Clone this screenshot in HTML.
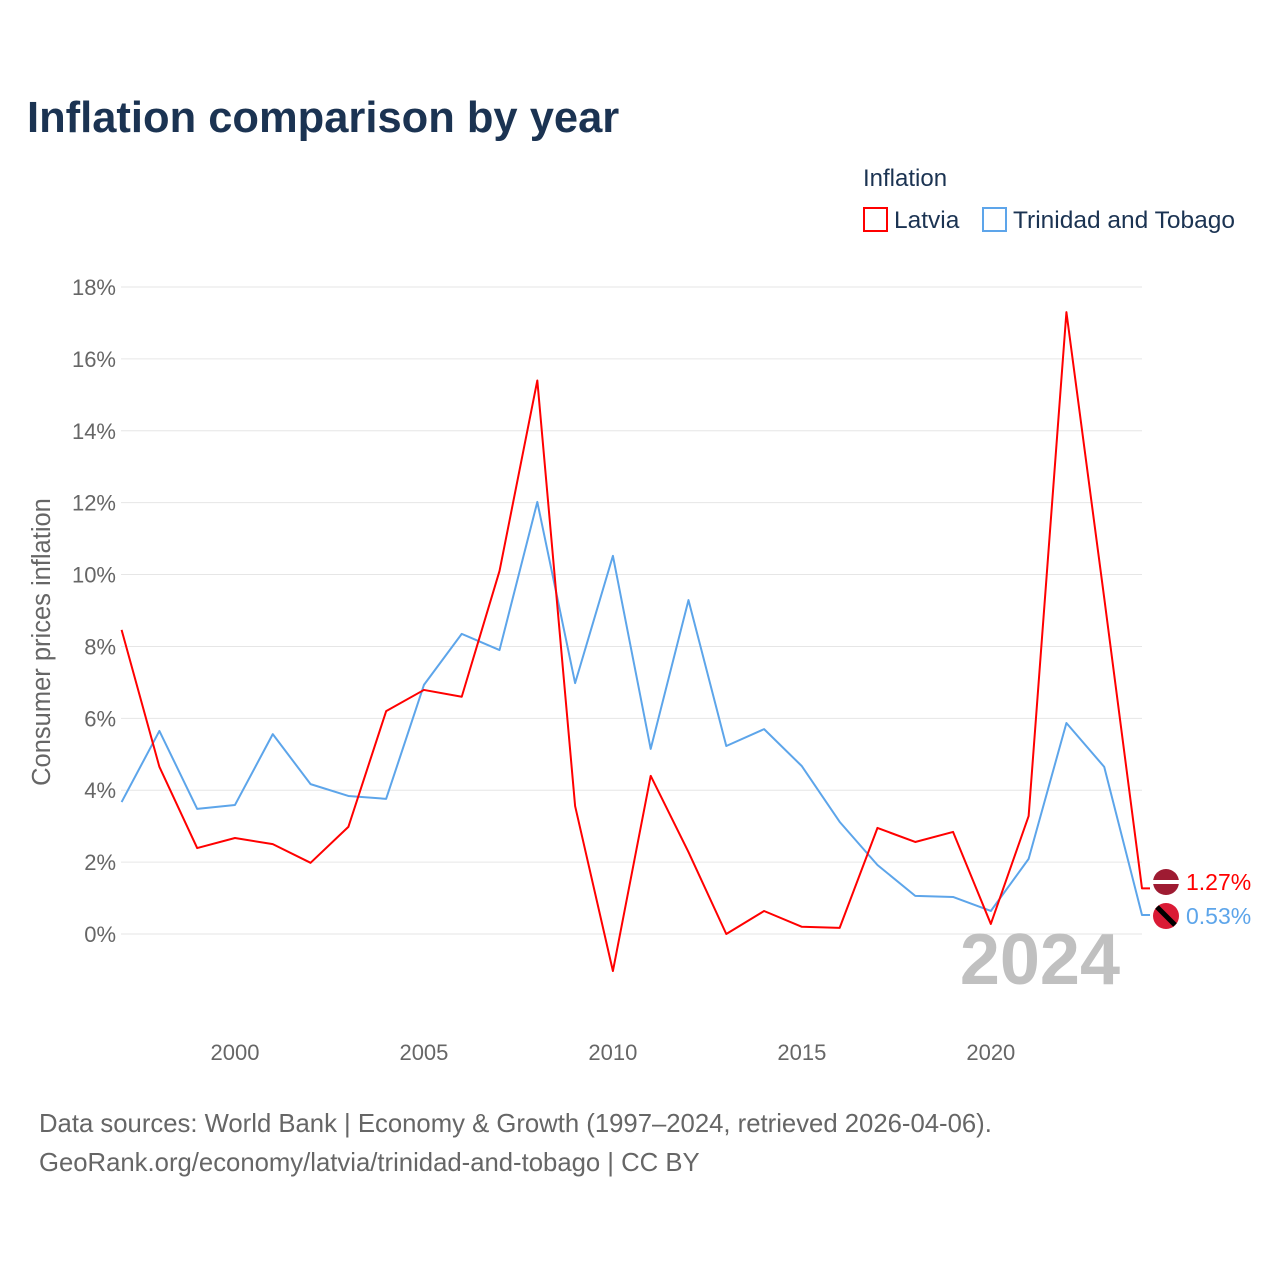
<!DOCTYPE html>
<html><head><meta charset="utf-8"><style>
body{margin:0;background:#fff;font-family:"Liberation Sans",sans-serif}
svg text{font-family:"Liberation Sans",sans-serif}
</style></head><body>
<svg id="chart" width="1280" height="1280" viewBox="0 0 1280 1280" xmlns="http://www.w3.org/2000/svg">
<rect width="1280" height="1280" fill="#fff"/>
<text x="27" y="132" font-size="43.5" font-weight="bold" fill="#1b3352">Inflation comparison by year</text>
<text x="863" y="186" font-size="24" fill="#1b3352">Inflation</text>
<g><rect x="864" y="208" width="23" height="23" fill="none" stroke="#f00" stroke-width="2"/><text x="894" y="228" font-size="24.5" fill="#1b3352">Latvia</text></g>
<g><rect x="983" y="208" width="23" height="23" fill="none" stroke="#5da5ea" stroke-width="2"/><text x="1013" y="228" font-size="24.5" fill="#1b3352">Trinidad and Tobago</text></g>
<text transform="translate(50,642) rotate(-90)" text-anchor="middle" font-size="25.5" fill="#666">Consumer prices inflation</text>
<g id="grid"></g><g id="yt"></g><g id="xt"></g>
<text x="1120" y="984" text-anchor="end" font-size="72" font-weight="bold" fill="#c0c0c0">2024</text>
<g id="series"></g>
<text x="39" y="1132" font-size="25.7" fill="#666">Data sources: World Bank | Economy &amp; Growth (1997–2024, retrieved 2026-04-06).</text>
<text x="39" y="1171" font-size="25.7" fill="#666">GeoRank.org/economy/latvia/trinidad-and-tobago | CC BY</text>
</svg>
<script>
const years=[1997,1998,1999,2000,2001,2002,2003,2004,2005,2006,2007,2008,2009,2010,2011,2012,2013,2014,2015,2016,2017,2018,2019,2020,2021,2022,2023,2024];
const latvia=[8.46,4.65,2.39,2.67,2.50,1.98,2.98,6.2,6.79,6.6,10.1,15.4,3.56,-1.03,4.4,2.28,0.0,0.64,0.2,0.17,2.95,2.56,2.84,0.28,3.28,17.3,9.35,1.27];
const trinidad=[3.67,5.65,3.48,3.59,5.56,4.17,3.84,3.76,6.93,8.35,7.9,12.02,6.98,10.52,5.15,9.29,5.23,5.7,4.67,3.12,1.92,1.06,1.03,0.64,2.09,5.87,4.65,0.53];
const yTicks=[0,2,4,6,8,10,12,14,16,18];
const xTicks=[2000,2005,2010,2015,2020];
const NS='http://www.w3.org/2000/svg';
const x=v=>121.6+(v-1997)*(1142-121.6)/27;
const y=v=>934-v*(934-287)/18;
function mk(t,a,p){const e=document.createElementNS(NS,t);for(const k in a)e.setAttribute(k,a[k]);p.appendChild(e);return e;}
const grid=document.getElementById('grid'),yt=document.getElementById('yt'),xt=document.getElementById('xt'),ser=document.getElementById('series');
yTicks.forEach(v=>{
 const l=mk('line',{x1:121,x2:1142,y1:y(v),y2:y(v),stroke:'#e6e6e6','stroke-width':1},grid);
 
 
 const t=mk('text',{x:116,y:y(v)+8,'text-anchor':'end','font-size':22,fill:'#666'},yt);
 t.textContent=v+'%';
 
 
});
xTicks.forEach(v=>{
 const t=mk('text',{x:x(v),y:1060,'text-anchor':'middle','font-size':22,fill:'#666'},xt);
 t.textContent=v;
 
 
});
function line(vals,col,name,lbl,ly){
 const pts=vals.map((v,i)=>x(years[i])+','+y(v));
 const last=vals[vals.length-1];
 pts.push((x(2024)+8)+','+y(last));
 const p=mk('polyline',{points:pts.join(' '),fill:'none',stroke:col,'stroke-width':2,'stroke-linejoin':'round'},ser);
 
 
 const c=mk('circle',{cx:1166,cy:ly-8,r:13,fill:name==='latvia'?'#9e1b32':'#da1a35'},ser);
 
 
 if(name==='latvia'){const b=mk('rect',{x:1153,y:ly-10,width:26,height:4,fill:'#fff'},ser);}
 else{const b=mk('line',{x1:1157,y1:ly-17,x2:1175,y2:ly+1,stroke:'#000','stroke-width':5},ser);}
 const t=mk('text',{x:1186,y:ly,'font-size':23,fill:col},ser);
 t.textContent=lbl;
 
 
}
line(trinidad,'#5da5ea','trinidad',trinidad[trinidad.length-1].toFixed(2)+'%',924);
line(latvia,'#f00','latvia',latvia[latvia.length-1].toFixed(2)+'%',890);
</script>
</body></html>
